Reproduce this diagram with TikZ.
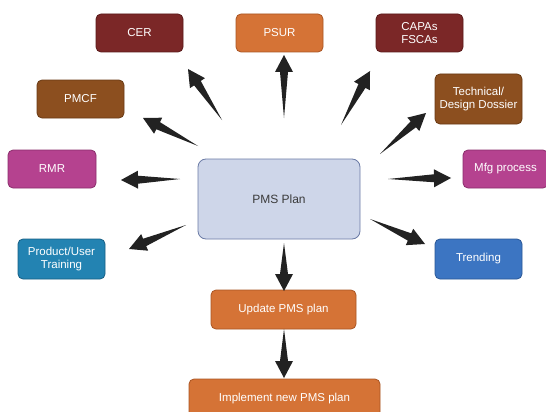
\documentclass[tikz,border=0pt]{standalone}
\usepackage{fontspec}
\setmainfont{Liberation Sans}
\usetikzlibrary{calc}
\definecolor{cdred}{HTML}{7B2727}
\definecolor{cdredb}{HTML}{5A1919}
\definecolor{corange}{HTML}{D57336}
\definecolor{corangeb}{HTML}{A95524}
\definecolor{cbrown}{HTML}{8C4F1F}
\definecolor{cbrownb}{HTML}{693A14}
\definecolor{cmag}{HTML}{B5428F}
\definecolor{cmagb}{HTML}{8A2D6B}
\definecolor{cteal}{HTML}{2383B2}
\definecolor{ctealb}{HTML}{175F84}
\definecolor{cblue}{HTML}{3C75C2}
\definecolor{cblueb}{HTML}{2A5796}
\definecolor{cplan}{HTML}{CED6E9}
\definecolor{cplanb}{HTML}{6B7BA6}
\definecolor{ctext}{HTML}{3A3A3A}
\definecolor{carrow}{HTML}{222222}
\newcommand\taparrow[2]{%
  \path ($(#2)!17pt!(#1)$) coordinate (nk);
  \fill[carrow] (#1) -- ($(nk)!4pt!90:(#2)$) -- ($(nk)!9pt!90:(#2)$) -- (#2)
    -- ($(nk)!9pt!-90:(#2)$) -- ($(nk)!4pt!-90:(#2)$) -- cycle;}
\begin{document}
\begin{tikzpicture}[x=1pt,y=-1pt,
  box/.style={draw, rounded corners=5pt, line width=0.8pt, minimum width=87pt,
    minimum height=38pt, inner sep=0pt, align=center, text=white,
    font=\fontsize{11.5}{13}\selectfont}]
\useasboundingbox (0,0) rectangle (546,412);
\clip (0,0) rectangle (546,412);
\fill[white] (0,0) rectangle (546,412);

\node[box, fill=cdred, draw=cdredb] (cer) at (139.5,33) {CER};
\node[box, fill=corange, draw=corangeb] (psur) at (279.5,33) {PSUR};
\node[box, fill=cdred, draw=cdredb] (capa) at (419.5,33) {CAPAs\\FSCAs};
\node[box, fill=cbrown, draw=cbrownb, minimum height=50pt] (tech) at (478.5,99) {Technical/\\Design Dossier};
\node[box, fill=cmag, draw=cmagb, minimum width=85pt] (mfg) at (505.5,169) {Mfg process};
\node[box, fill=cblue, draw=cblueb, minimum height=40pt] (trend) at (478.5,259) {Trending};
\node[box, fill=cbrown, draw=cbrownb] (pmcf) at (80.5,99) {PMCF};
\node[box, fill=cmag, draw=cmagb, minimum width=88pt] (rmr) at (52,169) {RMR};
\node[box, fill=cteal, draw=ctealb, minimum height=40pt] (train) at (61.5,259) {Product/User\\Training};
\node[box, fill=cplan, draw=cplanb, rounded corners=8pt, minimum width=162pt,
  minimum height=80pt, text=ctext, font=\fontsize{12}{14}\selectfont] (plan) at (279,199) {PMS Plan};
\node[box, fill=corange, draw=corangeb, minimum width=145pt, minimum height=39pt] (upd) at (283.5,309.5) {Update PMS plan};
\node[box, fill=corange, draw=corangeb, minimum width=191pt, minimum height=39pt] (impl) at (284.5,398.5) {Implement new PMS plan};

\coordinate (t1) at (222,120); \coordinate (h1) at (188,69);
\coordinate (t2) at (198,146); \coordinate (h2) at (143,118);
\coordinate (t3) at (180,179); \coordinate (h3) at (121,180);
\coordinate (t4) at (186,225); \coordinate (h4) at (129,249);
\coordinate (t5) at (284,118); \coordinate (h5) at (284,55);
\coordinate (t6) at (341,125); \coordinate (h6) at (370,71);
\coordinate (t7) at (380,154); \coordinate (h7) at (426,113);
\coordinate (t8) at (388,179); \coordinate (h8) at (451,178);
\coordinate (t9) at (370,219); \coordinate (h9) at (425,244);
\coordinate (t10) at (284,243); \coordinate (h10) at (284,291);
\coordinate (t11) at (284,329); \coordinate (h11) at (284,378);

\taparrow{t1}{h1}
\taparrow{t2}{h2}
\taparrow{t3}{h3}
\taparrow{t4}{h4}
\taparrow{t5}{h5}
\taparrow{t6}{h6}
\taparrow{t7}{h7}
\taparrow{t8}{h8}
\taparrow{t9}{h9}
\taparrow{t10}{h10}
\taparrow{t11}{h11}
\end{tikzpicture}
\end{document}
